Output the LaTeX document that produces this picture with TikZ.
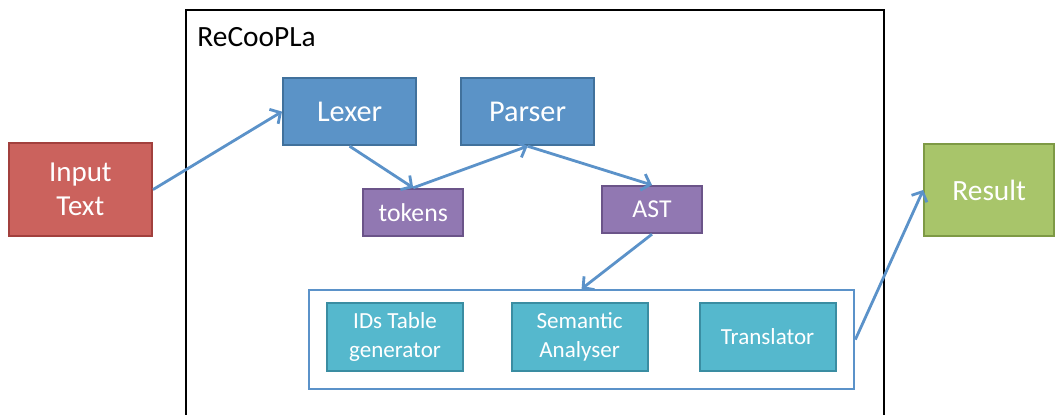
\documentclass[tikz,border=0pt]{standalone}
\usepackage{fontspec}
\setmainfont{Carlito}
\usepackage{tikz}
\usetikzlibrary{arrows.meta}

\definecolor{redfill}{HTML}{CB625D}
\definecolor{redline}{HTML}{A2403D}
\definecolor{bluefill}{HTML}{5B93C7}
\definecolor{blueline}{HTML}{41719C}
\definecolor{purplefill}{HTML}{9178B2}
\definecolor{purpleline}{HTML}{6B5489}
\definecolor{cyanfill}{HTML}{55B8CD}
\definecolor{cyanline}{HTML}{3A8DA2}
\definecolor{greenfill}{HTML}{A8C56A}
\definecolor{greenline}{HTML}{7E9A45}
\definecolor{arrowblue}{HTML}{5B92C9}

\begin{document}
\begin{tikzpicture}[
  box/.style={draw, line width=1.4pt, text=white, align=center, inner sep=0pt},
  stage/.style={box, fill=bluefill, draw=blueline, minimum width=3.33cm, minimum height=1.68cm, font=\fontsize{21.5}{24}\selectfont},
  data/.style={box, fill=purplefill, draw=purpleline, minimum width=2.5cm, minimum height=1.18cm, font=\fontsize{18.3}{20}\selectfont},
  pass/.style={box, fill=cyanfill, draw=cyanline, minimum width=3.4cm, minimum height=1.7cm, font=\fontsize{16.4}{20.5}\selectfont},
  flow/.style={draw=arrowblue, line width=2pt, -{Straight Barb[length=5.5pt,width=12pt]}}
]
\useasboundingbox (0, 0) rectangle (26.375, 10.35);

\draw [line width=2pt] (4.65, -1) rectangle (22.1, 10.1);
\node [anchor=west, inner sep=0pt, font=\fontsize{20.9}{23}\selectfont] (title) at (4.93, 9.42) {ReCooPLa};

\node [box, fill=redfill, draw=redline, minimum width=3.58cm, minimum height=2.33cm, font=\fontsize{20.6}{24.2}\selectfont] (input) at (2.01, 5.61) {Input\\Text};
\node [box, fill=greenfill, draw=greenline, minimum width=3.25cm, minimum height=2.3cm, font=\fontsize{20.9}{24}\selectfont] (result) at (24.73, 5.6) {Result};

\node [stage] (lexer) at (8.74, 7.56) {Lexer};
\node [stage] (parser) at (13.19, 7.56) {Parser};
\node [data] (tokens) at (10.33, 5.04) {tokens};
\node [data] (ast) at (16.3, 5.11) {AST};

\node [draw=arrowblue, line width=1.6pt, minimum width=13.63cm, minimum height=2.48cm] (back) at (14.54, 1.86) {};
\node [pass] (ids) at (9.875, 1.93) {IDs Table\\generator};
\node [pass] (sem) at (14.49, 1.93) {Semantic\\Analyser};
\node [pass] (trans) at (19.19, 1.93) {Translator};

\draw [flow] (input.east) -- (lexer.west);
\draw [flow] (lexer.south) -- (tokens.north);
\draw [flow] (tokens.north) -- (parser.south);
\draw [flow] (parser.south) -- (ast.north);
\draw [flow] (ast.south) -- (back.north);
\draw [flow] (back.east) -- (result.west);
\end{tikzpicture}
\end{document}
